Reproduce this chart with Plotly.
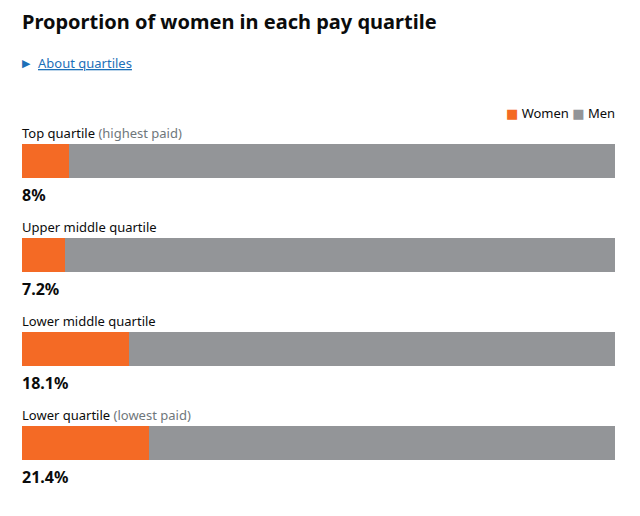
import plotly.graph_objects as go

categories = ["Top quartile", "Upper middle quartile", "Lower middle quartile", "Lower quartile"]
notes = ["(highest paid)", "", "", "(lowest paid)"]
women = [8.0, 7.2, 18.1, 21.4]
men = [round(100 - w, 1) for w in women]
pct_labels = ["8%", "7.2%", "18.1%", "21.4%"]

ORANGE = "#f46a25"
GREY = "#939598"
FONT = "Noto Sans"

W, H = 632, 508  # page adds an 8px body margin

fig = go.Figure()
fig.add_trace(go.Bar(y=categories, x=women, orientation="h", name="Women",
                     marker=dict(color=ORANGE, line=dict(width=0)), hoverinfo="skip"))
fig.add_trace(go.Bar(y=categories, x=men, orientation="h", name="Men",
                     marker=dict(color=GREY, line=dict(width=0)), hoverinfo="skip"))

annotations = []
for cat, note, pl in zip(categories, notes, pct_labels):
    txt = cat
    if note:
        txt += f" <span style='color:#6f777b'>{note}</span>"
    annotations.append(dict(text=txt, xref="paper", x=0, xanchor="left", xshift=-2, yref="y", y=cat,
                            yshift=28, showarrow=False, font=dict(family=FONT, size=13, color="#0b0c0c")))
    annotations.append(dict(text=f"<b>{pl}</b>", xref="paper", x=0, xanchor="left", xshift=-2, yref="y", y=cat,
                            yshift=-34, showarrow=False, font=dict(family=FONT, size=16, color="#0b0c0c")))

# Title as annotation so it is never clipped at the top edge
annotations.append(dict(text="<b>Proportion of women in each pay quartile</b>", xref="paper", yref="paper",
                        x=0, xanchor="left", xshift=-2, y=1.0, yanchor="middle", yshift=93,
                        showarrow=False, font=dict(family=FONT, size=20, color="#0b0c0c")))

annotations.append(dict(text="▶", xref="paper", yref="paper", x=0, xanchor="left", xshift=-2,
                        y=1.0, yanchor="middle", yshift=51, showarrow=False,
                        font=dict(family="DejaVu Sans", size=11, color="#1d70b8")))
annotations.append(dict(text="<u>About quartiles</u>", xref="paper", yref="paper", x=0, xanchor="left",
                        xshift=14, y=1.0, yanchor="middle", yshift=51, showarrow=False,
                        font=dict(family=FONT, size=13, color="#1d70b8")))

legend_txt = (f"<span style='color:{ORANGE};font-family:DejaVu Sans'>■</span> Women "
              f"<span style='color:{GREY};font-family:DejaVu Sans'>■</span> Men")
annotations.append(dict(text=legend_txt, xref="paper", yref="paper", x=1, xanchor="right", xshift=2,
                        y=1.0, yanchor="middle", yshift=1, showarrow=False,
                        font=dict(family=FONT, size=13, color="#0b0c0c")))

fig.update_layout(
    width=W, height=H,
    barmode="stack", bargap=0.638,
    margin=dict(l=14, r=25, t=106, b=26),
    paper_bgcolor="white", plot_bgcolor="white",
    xaxis=dict(range=[0, 100], visible=False, fixedrange=True),
    yaxis=dict(autorange="reversed", visible=False, fixedrange=True),
    showlegend=False,
    annotations=annotations,
)

fig.write_html("out.html", config={"displayModeBar": False})
